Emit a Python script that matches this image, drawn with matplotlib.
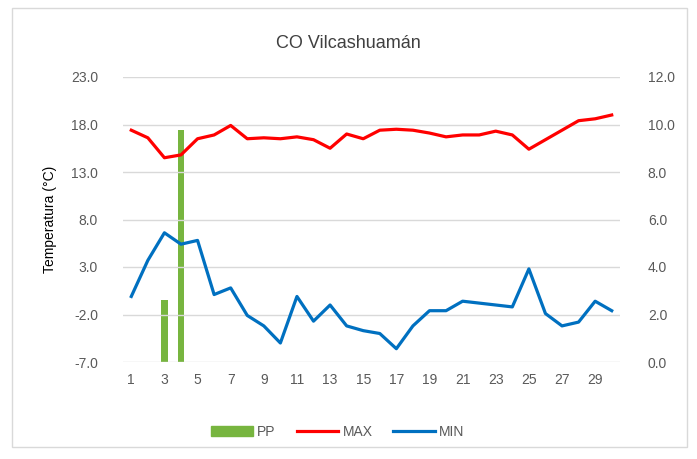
import matplotlib
matplotlib.use("Agg")
import matplotlib.pyplot as plt
from matplotlib.patches import Patch
from matplotlib.lines import Line2D
import numpy as np

plt.rcParams['font.family'] = ['Liberation Sans', 'DejaVu Sans']

dias = list(range(1, 31))
t_max = [17.4, 16.6, 14.5, 14.8, 16.5, 16.9, 17.9, 16.5, 16.6, 16.5,
         16.7, 16.4, 15.5, 17.0, 16.5, 17.4, 17.5, 17.4, 17.1, 16.7,
         16.9, 16.9, 17.3, 16.9, 15.4, 16.4, 17.4, 18.4, 18.6, 19.0]
t_min = [-0.1, 3.7, 6.6, 5.4, 5.8, 0.1, 0.8, -2.1, -3.2, -5.0,
         -0.1, -2.7, -1.0, -3.2, -3.7, -4.0, -5.6, -3.2, -1.6, -1.6,
         -0.6, -0.8, -1.0, -1.2, 2.8, -1.9, -3.2, -2.8, -0.6, -1.6]
pp_dias = [3, 4]
pp = [2.6, 9.75]

gris = "#595959"
rojo = "#FF0000"
azul = "#0070C0"
verde = "#77B53F"

fig = plt.figure(figsize=(6.97, 4.59), dpi=100)
# marco del grafico
fig.patches.append(plt.Rectangle((12/697, 1-447/459), 675/697, 439/459,
                                 transform=fig.transFigure, fill=False,
                                 edgecolor="#D9D9D9", linewidth=1))

ax = fig.add_axes([123/697, 1-362/459, 497/697, 285/459])
ax2 = ax.twinx()

ax2.bar(pp_dias, pp, width=0.4, color=verde, zorder=2)
ax.plot(dias, t_max, color=rojo, linewidth=2.3, zorder=3)
ax.plot(dias, t_min, color=azul, linewidth=2.3, zorder=3)

ax.set_zorder(ax2.get_zorder() + 1)
ax.patch.set_visible(False)

ax.set_xlim(0.5, 30.5)
ax.set_ylim(-7, 23)
ax2.set_ylim(0, 12)
ax.set_yticks(np.arange(-7, 24, 5))
ax.set_yticklabels(["%.1f" % v for v in np.arange(-7, 24, 5)])
ax2.set_yticks(np.arange(0, 13, 2))
ax2.set_yticklabels(["%.1f" % v for v in np.arange(0, 13, 2)])
ax.set_xticks(range(1, 31, 2))

ax.grid(axis="y", color="#D9D9D9", linewidth=1)
ax.set_axisbelow(True)
for a in (ax, ax2):
    for s in a.spines.values():
        s.set_visible(False)
    a.tick_params(length=0, colors=gris, labelsize=10)
ax.tick_params(axis="y", pad=18)
ax2.tick_params(axis="y", pad=20)
ax.tick_params(axis="x", pad=8)

ax.set_ylabel("Temperatura (°C)", color="black", fontsize=10, labelpad=10)
fig.text(348/697, 1-43/459, "CO Vilcashuamán", ha="center", va="center",
         fontsize=13, color="#404040")

handles = [Patch(color=verde), Line2D([], [], color=rojo, linewidth=2.3),
           Line2D([], [], color=azul, linewidth=2.3)]
fig.legend(handles, ["PP", "MAX", "MIN"], loc="center", ncol=3,
           bbox_to_anchor=(338/697, 1-432/459), frameon=False, fontsize=10,
           labelcolor=gris, handlelength=3, handletextpad=0.3, columnspacing=1.5)

fig.savefig("out.png", dpi=100)
